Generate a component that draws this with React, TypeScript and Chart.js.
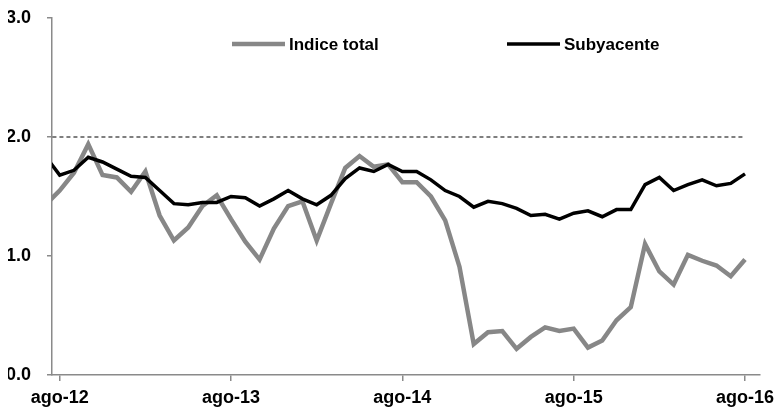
import { useEffect, useRef } from 'react';
import { Chart, registerables } from 'chart.js';

Chart.register(...registerables);

const categories = [
  'jul-12', 'ago-12', 'sep-12', 'oct-12', 'nov-12', 'dic-12',
  'ene-13', 'feb-13', 'mar-13', 'abr-13', 'may-13', 'jun-13', 'jul-13', 'ago-13', 'sep-13', 'oct-13', 'nov-13', 'dic-13',
  'ene-14', 'feb-14', 'mar-14', 'abr-14', 'may-14', 'jun-14', 'jul-14', 'ago-14', 'sep-14', 'oct-14', 'nov-14', 'dic-14',
  'ene-15', 'feb-15', 'mar-15', 'abr-15', 'may-15', 'jun-15', 'jul-15', 'ago-15', 'sep-15', 'oct-15', 'nov-15', 'dic-15',
  'ene-16', 'feb-16', 'mar-16', 'abr-16', 'may-16', 'jun-16', 'jul-16', 'ago-16',
];

const indiceTotal = [
  1.43,
  1.55, 1.70, 1.94, 1.68, 1.66, 1.54, 1.71, 1.34, 1.13, 1.24,
  1.42, 1.51, 1.31, 1.12, 0.97, 1.23, 1.42, 1.46, 1.13, 1.44,
  1.74, 1.84, 1.75, 1.77, 1.62, 1.62, 1.50, 1.30, 0.91, 0.26,
  0.36, 0.37, 0.22, 0.32, 0.40, 0.37, 0.39, 0.23, 0.29, 0.46,
  0.57, 1.10, 0.87, 0.76, 1.01, 0.96, 0.92, 0.83, 0.97,
];

const subyacente = [
  1.84,
  1.68, 1.72, 1.83, 1.79, 1.73, 1.67, 1.66, 1.55, 1.44, 1.43,
  1.45, 1.45, 1.50, 1.49, 1.42, 1.48, 1.55, 1.48, 1.43, 1.51,
  1.65, 1.74, 1.71, 1.77, 1.71, 1.71, 1.64, 1.55, 1.50, 1.41,
  1.46, 1.44, 1.40, 1.34, 1.35, 1.31, 1.36, 1.38, 1.33, 1.39,
  1.39, 1.60, 1.66, 1.55, 1.60, 1.64, 1.59, 1.61, 1.69,
];

const targetMonths = ['jul-12', 'ago-16'];
const targetValues = [2.0, 2.0];

const tickLabels = ['ago-12', 'ago-13', 'ago-14', 'ago-15', 'ago-16'];
const yTicks = [0, 1, 2, 3];

const FONT = "'Liberation Sans', Arial, sans-serif";
const AXIS_FONT_SIZE = 18;
const LEGEND_FONT_SIZE = 17;
const AXIS_COLOR = '#8a8a8a';

const insideLegend = {
  id: 'insideLegend',
  afterDraw(chart: any, _args: any, opts: any) {
    const { ctx, chartArea } = chart;
    const items: number[] = opts.items || [];
    const offsets: number[] = opts.offsets || [];
    ctx.save();
    ctx.font = `bold ${opts.size}px ${FONT}`;
    ctx.textBaseline = 'middle';
    ctx.textAlign = 'left';
    items.forEach((dsIndex, i) => {
      const ds = chart.data.datasets[dsIndex];
      const x0 = chartArea.left + offsets[i];
      const y = chartArea.top + opts.top;
      ctx.strokeStyle = ds.borderColor;
      ctx.lineWidth = ds.borderWidth;
      ctx.beginPath();
      ctx.moveTo(x0, y);
      ctx.lineTo(x0 + opts.lineLength, y);
      ctx.stroke();
      ctx.fillStyle = '#000';
      ctx.fillText(ds.label, x0 + opts.lineLength + opts.gap, y + 1);
    });
    ctx.restore();
  },
};

export default function App() {
  const ref = useRef<HTMLCanvasElement | null>(null);

  useEffect(() => {
    if (!ref.current) return;
    const toPoints = (labels: string[], values: number[]) =>
      values.map((v, i) => ({ x: categories.indexOf(labels[i]), y: v }));

    const chart = new Chart(ref.current, {
      type: 'line',
      data: {
        datasets: [
          {
            label: 'Indice total',
            data: toPoints(categories, indiceTotal),
            borderColor: '#878787',
            backgroundColor: '#878787',
            borderWidth: 4.5,
            pointRadius: 0,
            tension: 0,
            clip: 0,
            order: 2,
          },
          {
            label: 'Subyacente',
            data: toPoints(categories, subyacente),
            borderColor: '#000000',
            backgroundColor: '#000000',
            borderWidth: 3.5,
            pointRadius: 0,
            tension: 0,
            clip: 0,
            order: 1,
          },
          {
            label: 'Meta',
            data: toPoints(targetMonths, targetValues),
            borderColor: '#000000',
            borderWidth: 1.2,
            borderDash: [4, 3],
            pointRadius: 0,
            clip: 0,
            order: 3,
          },
        ],
      },
      options: {
        animation: false,
        responsive: true,
        maintainAspectRatio: false,
        parsing: false as any,
        layout: { padding: { left: 8, top: 18, right: 14, bottom: 4 } },
        plugins: {
          legend: { display: false },
          tooltip: { enabled: false },
          insideLegend: { items: [0, 1], offsets: [180, 455], top: 26, lineLength: 53, gap: 4, size: LEGEND_FONT_SIZE },
        } as any,
        scales: {
          x: {
            type: 'linear',
            min: 0.46,
            max: 50.05,
            afterBuildTicks: (scale: any) => {
              scale.ticks = tickLabels.map((l) => ({ value: categories.indexOf(l) }));
            },
            afterFit: (scale: any) => {
              scale.height = 35;
              scale.paddingLeft = 0;
              scale.paddingRight = 0;
            },
            ticks: {
              autoSkip: false,
              maxRotation: 0,
              padding: 6,
              color: '#000',
              font: { family: FONT, size: AXIS_FONT_SIZE, weight: 'bold' },
              callback: (v: any) => categories[Number(v)] ?? '',
            },
            grid: { drawOnChartArea: false, drawTicks: true, tickLength: 6, color: AXIS_COLOR, lineWidth: 1.5 },
            border: { display: true, color: AXIS_COLOR, width: 1.5 },
          },
          y: {
            min: 0,
            max: 3,
            afterBuildTicks: (scale: any) => {
              scale.ticks = yTicks.map((v) => ({ value: v }));
            },
            afterFit: (scale: any) => {
              scale.width = 44;
              scale.paddingTop = 0;
              scale.paddingBottom = 0;
            },
            ticks: {
              padding: 16,
              color: '#000',
              font: { family: FONT, size: AXIS_FONT_SIZE, weight: 'bold' },
              callback: (v: any) => Number(v).toFixed(1),
            },
            grid: { drawOnChartArea: false, drawTicks: true, tickLength: 5, color: AXIS_COLOR, lineWidth: 1.5 },
            border: { display: true, color: AXIS_COLOR, width: 1.5 },
          },
        },
      } as any,
      plugins: [insideLegend],
    });
    return () => chart.destroy();
  }, []);

  return (
    <div style={{ position: 'fixed', left: 0, top: 0, width: 774, height: 414, background: '#fff' }}>
      <canvas ref={ref} />
    </div>
  );
}
